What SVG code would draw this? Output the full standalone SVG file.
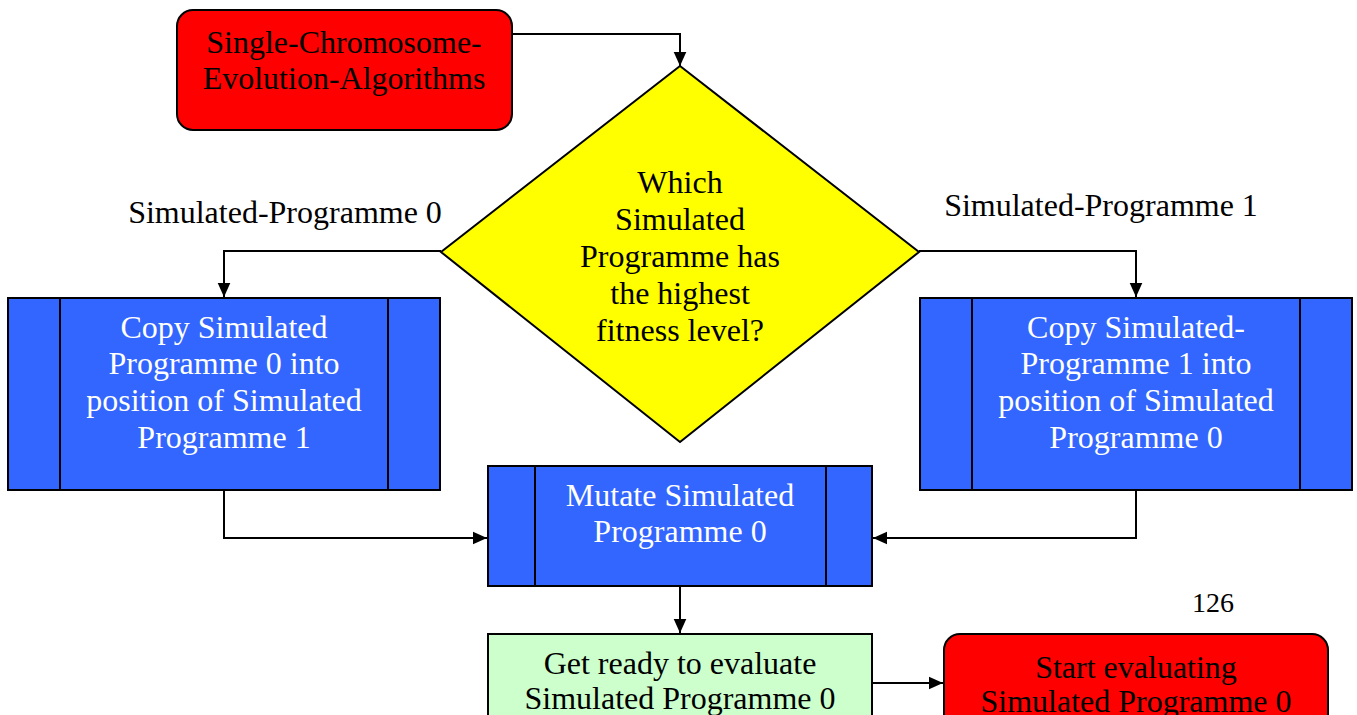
<svg xmlns="http://www.w3.org/2000/svg" width="1357" height="715" viewBox="0 0 1357 715">
  <style>
    text { font-family: "Liberation Serif", "DejaVu Serif", serif; font-size: 32px; text-anchor: middle; }
    .dark { fill: #000000; }
    .light { fill: #FFFFFF; }
    .shape { stroke: #000000; stroke-width: 2; }
    .terminal { fill: #FF0000; }
    .decision { fill: #FFFF00; }
    .process { fill: #3366FF; }
    .prep { fill: #CCFFCC; }
    .bar { stroke: #000000; stroke-width: 2; fill: none; }
    .wire { stroke: #000000; stroke-width: 2; fill: none; marker-end: url(#head); }
  </style>
  <defs>
    <marker id="head" viewBox="0 0 10 10" refX="10" refY="5" markerWidth="14" markerHeight="14" markerUnits="userSpaceOnUse" orient="auto">
      <path d="M0,0.5 L10,5 L0,9.5 z" fill="#000000"/>
    </marker>
  </defs>
  <rect width="1357" height="715" fill="#FFFFFF"/>

  <g id="connectors">
    <path class="wire" d="M512,34 H680 V66"/>
    <path class="wire" d="M441,251 H224 V297"/>
    <path class="wire" d="M919,251 H1136 V297"/>
    <path class="wire" d="M224,490 V538 H487"/>
    <path class="wire" d="M1136,490 V538 H873"/>
    <path class="wire" d="M680,586 V633"/>
    <path class="wire" d="M872,683 H943"/>
  </g>

  <g id="node-start">
    <rect class="shape terminal" x="177" y="10" width="335" height="120" rx="16" ry="16"/>
    <text class="dark" x="344" y="53">Single-Chromosome-</text>
    <text class="dark" x="344" y="89">Evolution-Algorithms</text>
  </g>

  <g id="node-decision">
    <polygon class="shape decision" points="680,66 919,252 680,442 441,252"/>
    <text class="dark" x="680" y="193">Which</text>
    <text class="dark" x="680" y="230">Simulated</text>
    <text class="dark" x="680" y="267">Programme has</text>
    <text class="dark" x="680" y="304">the highest</text>
    <text class="dark" x="680" y="341">fitness level?</text>
  </g>

  <g id="label-branch-0">
    <text class="dark" x="285" y="223">Simulated-Programme 0</text>
  </g>
  <g id="label-branch-1">
    <text class="dark" x="1101" y="216">Simulated-Programme 1</text>
  </g>

  <g id="node-copy-0">
    <rect class="shape process" x="8" y="298" width="432" height="192"/>
    <line class="bar" x1="60" y1="298" x2="60" y2="490"/>
    <line class="bar" x1="388" y1="298" x2="388" y2="490"/>
    <text class="light" x="224" y="338">Copy Simulated</text>
    <text class="light" x="224" y="374">Programme 0 into</text>
    <text class="light" x="224" y="411">position of Simulated</text>
    <text class="light" x="224" y="448">Programme 1</text>
  </g>

  <g id="node-copy-1">
    <rect class="shape process" x="920" y="298" width="432" height="192"/>
    <line class="bar" x1="972" y1="298" x2="972" y2="490"/>
    <line class="bar" x1="1300" y1="298" x2="1300" y2="490"/>
    <text class="light" x="1136" y="338">Copy Simulated-</text>
    <text class="light" x="1136" y="374">Programme 1 into</text>
    <text class="light" x="1136" y="411">position of Simulated</text>
    <text class="light" x="1136" y="448">Programme 0</text>
  </g>

  <g id="node-mutate">
    <rect class="shape process" x="488" y="466" width="384" height="120"/>
    <line class="bar" x1="535" y1="466" x2="535" y2="586"/>
    <line class="bar" x1="826" y1="466" x2="826" y2="586"/>
    <text class="light" x="680" y="506">Mutate Simulated</text>
    <text class="light" x="680" y="542">Programme 0</text>
  </g>

  <g id="node-prepare">
    <rect class="shape prep" x="488" y="634" width="384" height="100"/>
    <text class="dark" x="680" y="674">Get ready to evaluate</text>
    <text class="dark" x="680" y="709">Simulated Programme 0</text>
  </g>

  <g id="node-evaluate">
    <rect class="shape terminal" x="944" y="634" width="384" height="110" rx="16" ry="16"/>
    <text class="dark" x="1136" y="678">Start evaluating</text>
    <text class="dark" x="1136" y="712">Simulated Programme 0</text>
  </g>

  <g id="page-number">
    <text class="dark" x="1213" y="612" style="font-size:28px">126</text>
  </g>
</svg>
